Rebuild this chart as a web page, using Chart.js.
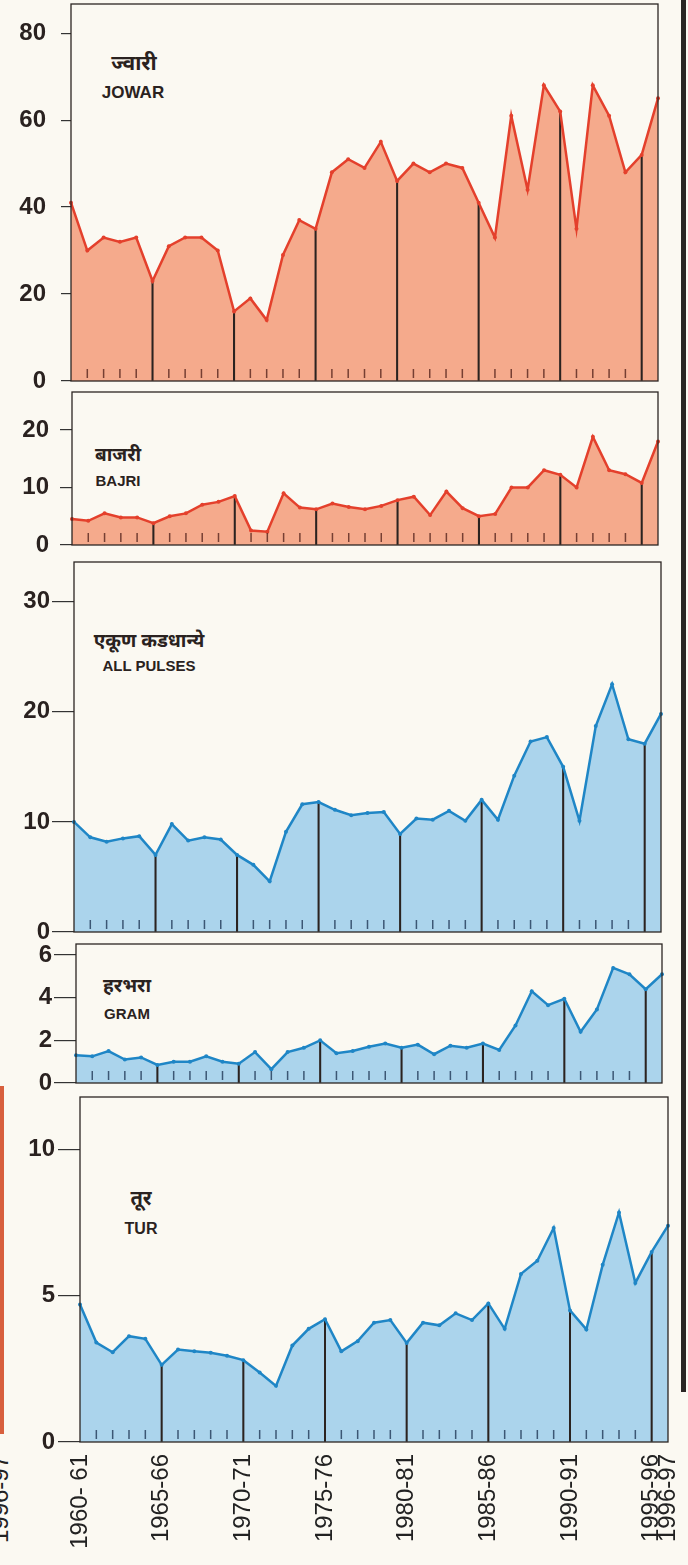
<!DOCTYPE html>
<html>
<head>
<meta charset="utf-8">
<script src="https://cdn.jsdelivr.net/npm/chart.js@4.4.1/dist/chart.umd.min.js"></script>
<style>
  html, body { margin: 0; padding: 0; }
  body { width: 688px; height: 1565px; background: #fbf9f2; position: relative; overflow: hidden;
         font-family: "Liberation Sans", Arial, sans-serif; }
  .panel { position: absolute; left: 0; }
  .lbl { position: absolute; transform: translateX(-50%); font-weight: bold; color: #2a2220;
         white-space: nowrap; line-height: 1; }
  .hi { font-size: 19px; font-family: "Noto Sans", "Liberation Sans", sans-serif; }
  .en { font-size: 15px; }
  .strip { position: absolute; left: 0; top: 1086px; width: 4px; height: 348px; background: #d8603e; }
  .edge { position: absolute; left: 681px; top: 0; width: 5px; height: 1392px; background: #2a2624; }
  .cut { position: absolute; left: -44px; top: 1485px; font-size: 24px; color: #222;
         transform: rotate(-90deg); }
</style>
</head>
<body>

<div class="strip"></div>
<div class="edge"></div>
<div class="cut">1996-97</div>

<div class="lbl hi" style="left:134px;top:52px;font-size:21px">ज्वारी</div>
<div class="lbl en" style="left:133px;top:84px;font-size:17px">JOWAR</div>
<div class="lbl hi" style="left:118px;top:445px">बाजरी</div>
<div class="lbl en" style="left:118px;top:473px">BAJRI</div>
<div class="lbl hi" style="left:149px;top:631px">एकूण कडधान्ये</div>
<div class="lbl en" style="left:149px;top:658px">ALL PULSES</div>
<div class="lbl hi" style="left:127px;top:976px">हरभरा</div>
<div class="lbl en" style="left:127px;top:1006px">GRAM</div>
<div class="lbl hi" style="left:141px;top:1188px;font-size:20px">तूर</div>
<div class="lbl en" style="left:141px;top:1221px;font-size:16px">TUR</div>

<script>
// ---------- DATA ----------
const YEARS = ["1960-61","1961-62","1962-63","1963-64","1964-65","1965-66","1966-67","1967-68",
  "1968-69","1969-70","1970-71","1971-72","1972-73","1973-74","1974-75","1975-76","1976-77",
  "1977-78","1978-79","1979-80","1980-81","1981-82","1982-83","1983-84","1984-85","1985-86",
  "1986-87","1987-88","1988-89","1989-90","1990-91","1991-92","1992-93","1993-94","1994-95",
  "1995-96","1996-97"];

const X_TICK_INDEX = [0, 5, 10, 15, 20, 25, 30, 35, 36];
const X_TICK_LABELS = ["1960- 61","1965-66","1970-71","1975-76","1980-81","1985-86","1990-91","1995-96","1996-97"];
const DROP_INDEX = [5, 10, 15, 20, 25, 30, 35];

const JOWAR = [41, 30, 33, 32, 33, 23, 31, 33, 33, 30, 16, 19, 14, 29, 37, 35, 48, 51, 49, 55,
  46, 50, 48, 50, 49, 41, 33, 61, 44, 68, 62, 35, 68, 61, 48, 52, 65];
const BAJRI = [4.5, 4.2, 5.5, 4.8, 4.8, 3.8, 5, 5.5, 7, 7.5, 8.5, 2.5, 2.3, 9, 6.5, 6.2, 7.2, 6.6,
  6.2, 6.8, 7.8, 8.4, 5.2, 9.3, 6.4, 5, 5.4, 10, 10, 13, 12.2, 10, 18.8, 13, 12.3, 10.8, 18];
const ALL_PULSES = [10, 8.6, 8.2, 8.5, 8.7, 7.0, 9.8, 8.3, 8.6, 8.4, 7.0, 6.1, 4.6, 9.1, 11.6,
  11.8, 11.1, 10.6, 10.8, 10.9, 8.9, 10.3, 10.2, 11, 10.1, 12, 10.2, 14.2, 17.3, 17.7, 15, 10.1,
  18.7, 22.5, 17.5, 17.1, 19.8];
const GRAM = [1.3, 1.25, 1.5, 1.1, 1.2, 0.85, 1.0, 1.0, 1.25, 1.0, 0.9, 1.45, 0.65, 1.45, 1.65,
  2.0, 1.4, 1.5, 1.7, 1.85, 1.65, 1.8, 1.35, 1.75, 1.65, 1.85, 1.55, 2.7, 4.3, 3.65, 3.95, 2.4,
  3.45, 5.4, 5.1, 4.4, 5.1];
const TUR = [4.7, 3.4, 3.07, 3.62, 3.53, 2.64, 3.16, 3.1, 3.05, 2.95, 2.8, 2.38, 1.92, 3.3, 3.87,
  4.2, 3.1, 3.45, 4.08, 4.17, 3.39, 4.08, 3.99, 4.4, 4.17, 4.74, 3.87, 5.75, 6.2, 7.32, 4.5,
  3.85, 6.06, 7.85, 5.44, 6.5, 7.4];

const JOWAR_TICKS = [0, 20, 40, 60, 80];
const BAJRI_TICKS = [0, 10, 20];
const PULSES_TICKS = [0, 10, 20, 30];
const GRAM_TICKS = [0, 2, 4, 6];
const TUR_TICKS = [0, 5, 10];

// ---------- STYLE ----------
const FONT = "'Liberation Sans', Arial, sans-serif";
const PAD = 16;
const RED = { line: "#e4402c", fill: "#f5aa8c", tick: "rgba(95,45,35,0.85)" };
const BLUE = { line: "#1f86c6", fill: "#abd4ec", tick: "rgba(40,65,95,0.85)" };

// year ticks near the baseline + panel frame
const frame = {
  id: "frame",
  afterDatasetsDraw(chart, args, opts) {
    const { ctx, chartArea: a, scales: { x } } = chart;
    ctx.save();
    ctx.strokeStyle = opts.tick;
    ctx.lineWidth = 1.5;
    for (let i = 1; i < YEARS.length; i++) {
      if (X_TICK_INDEX.includes(i)) continue;
      const px = x.getPixelForValue(i);
      ctx.beginPath();
      ctx.moveTo(px, a.bottom - 3);
      ctx.lineTo(px, a.bottom - 12);
      ctx.stroke();
    }
    ctx.strokeStyle = "#2b2522";
    ctx.lineWidth = 1.3;
    ctx.strokeRect(a.left, a.top, a.right - a.left, a.bottom - a.top);
    ctx.restore();
  }
};

function makePanel(values, ticks, g, col, showX) {
  const top = g.top - PAD;
  const height = showX ? 1565 - top : g.zero - g.top + 2 * PAD;
  const canvas = document.createElement("canvas");
  canvas.className = "panel";
  canvas.width = 688;
  canvas.height = height;
  canvas.style.top = top + "px";
  document.body.appendChild(canvas);

  new Chart(canvas, {
    type: "line",
    data: {
      labels: YEARS,
      datasets: [{
        data: values,
        borderColor: col.line,
        backgroundColor: col.fill,
        fill: "origin",
        borderWidth: 2.5,
        pointRadius: 2,
        pointBackgroundColor: col.line,
        pointBorderWidth: 0,
        tension: 0
      }, {
        type: "bar",
        data: values.map((v, i) => DROP_INDEX.includes(i) ? v : null),
        backgroundColor: "#2b2320",
        barThickness: 1.4
      }]
    },
    options: {
      responsive: false,
      animation: false,
      layout: { padding: { top: PAD, right: 688 - g.right, bottom: showX ? 0 : PAD, left: 0 } },
      plugins: {
        legend: { display: false },
        tooltip: { enabled: false },
        filler: { drawTime: "beforeDatasetsDraw" },
        frame: { tick: col.tick }
      },
      scales: {
        x: {
          display: showX,
          offset: false,
          grid: { display: false, drawTicks: false },
          border: { display: false },
          ticks: {
            autoSkip: false,
            minRotation: 90,
            maxRotation: 90,
            padding: 12,
            color: "#222",
            font: { size: 24, family: FONT },
            callback: (v, i) => {
              const k = X_TICK_INDEX.indexOf(i);
              return k < 0 ? "" : X_TICK_LABELS[k];
            }
          },
          afterFit: s => {
            if (showX) s.height = 1565 - g.zero;
            s.paddingLeft = 0;
            s.paddingRight = 0;
          }
        },
        y: {
          min: 0,
          max: g.max,
          afterBuildTicks: s => { s.ticks = ticks.map(v => ({ value: v })); },
          afterFit: s => {
            s.width = g.left;
            s.paddingTop = 0;
            s.paddingBottom = 0;
          },
          grid: { drawOnChartArea: false, tickLength: g.tl, color: "#333", lineWidth: 1.2 },
          border: { display: false },
          ticks: { padding: g.pad, color: "#2a2220", font: { size: 24, weight: "bold", family: FONT } }
        }
      }
    },
    plugins: [frame]
  });
}

makePanel(JOWAR, JOWAR_TICKS, { top: 4, zero: 381, left: 71, right: 658, max: 86.7, tl: 10, pad: 15 }, RED, false);
makePanel(BAJRI, BAJRI_TICKS, { top: 392, zero: 545, left: 72, right: 658, max: 26.6, tl: 12, pad: 11 }, RED, false);
makePanel(ALL_PULSES, PULSES_TICKS, { top: 562, zero: 932, left: 74, right: 661, max: 33.6, tl: 22, pad: 2 }, BLUE, false);
makePanel(GRAM, GRAM_TICKS, { top: 944, zero: 1083, left: 76, right: 662, max: 6.52, tl: 22, pad: 2 }, BLUE, false);
makePanel(TUR, TUR_TICKS, { top: 1097, zero: 1442, left: 80, right: 668, max: 11.8, tl: 22, pad: 3 }, BLUE, true);
</script>
</body>
</html>
